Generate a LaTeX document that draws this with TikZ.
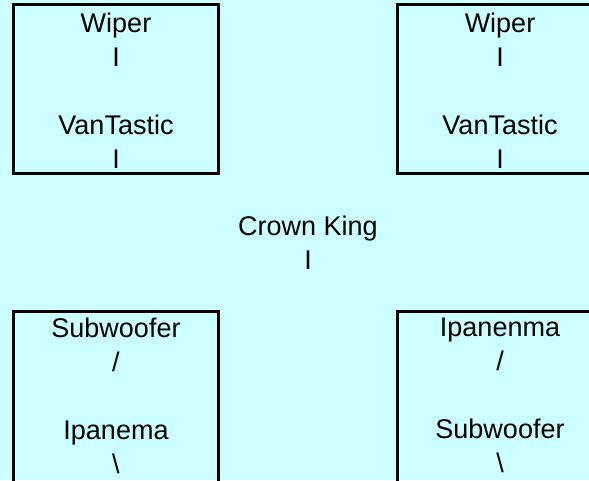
\documentclass[tikz,border=0pt]{standalone}
\usepackage{fontspec}
\setmainfont{Liberation Sans}
\usetikzlibrary{positioning}
\definecolor{paleaqua}{HTML}{CCFFFF}

\begin{document}
\begin{tikzpicture}[
    x=1pt, y=-1pt,
    every node/.style={align=center, font=\fontsize{27}{34}\selectfont},
    combo/.style={draw, rectangle, line width=3pt, minimum width=205pt, minimum height=169pt, inner sep=0pt}
]
  % Background
  \fill[paleaqua] (0,0) rectangle (589,480);
  \useasboundingbox (0,0) rectangle (589,480);

  % Top pair
  \node[combo] (wiperl) at (116,89) {\rule{0pt}{23.5pt}Wiper\\I\\[34pt]VanTastic\\I};
  \node[combo, right of=wiperl, node distance=384pt] (wiperr) {\rule{0pt}{23.5pt}Wiper\\I\\[34pt]VanTastic\\I};

  % Middle
  \node[inner sep=0pt] (crown) at (308,243) {Crown King\\I};

  % Bottom pair
  \node[combo, minimum height=172pt, below of=wiperl, node distance=308.5pt] (subl) {Subwoofer\\/\\[34pt]Ipanema\\\textbackslash\rule[-4pt]{0pt}{4pt}};
  \node[combo, minimum height=172pt, right of=subl, node distance=384pt] (ipar) {Ipanenma\\/\\[34pt]Subwoofer\\\textbackslash\rule[-4pt]{0pt}{4pt}};
\end{tikzpicture}
\end{document}
